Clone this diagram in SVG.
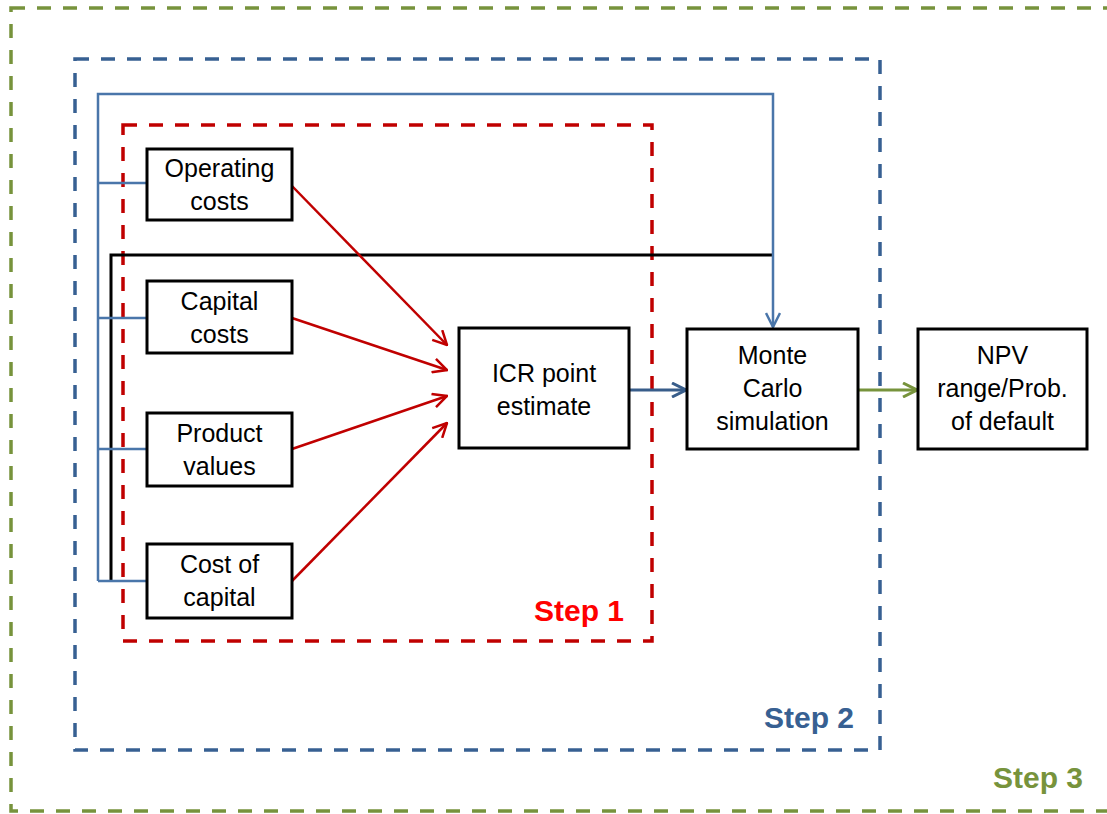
<svg xmlns="http://www.w3.org/2000/svg" width="1107" height="814" viewBox="0 0 1107 814">
<style>
.box{fill:#fff;stroke:#000;stroke-width:3}
.lbl{font-family:"Liberation Sans",Arial,sans-serif;font-size:25px;fill:#000;text-anchor:middle}
.step{font-family:"Liberation Sans",Arial,sans-serif;font-size:30px;font-weight:bold;text-anchor:end}
.zone{fill:none;stroke-width:3.5;stroke-dasharray:14 12}
.red{stroke:#C00000;stroke-width:2.5;fill:none}
.blue{stroke:#4A76AA;stroke-width:2.5;fill:none}
.blk{stroke:#000;stroke-width:3;fill:none}
</style>
<defs>
<marker id="aRed" markerUnits="userSpaceOnUse" viewBox="0 0 16 16" markerWidth="16" markerHeight="16" refX="15" refY="8" orient="auto"><path d="M1,1 L15,8 L1,15" fill="none" stroke="#C00000" stroke-width="2.5"/></marker>
<marker id="aBlue" markerUnits="userSpaceOnUse" viewBox="0 0 16 16" markerWidth="16" markerHeight="16" refX="15" refY="8" orient="auto"><path d="M1,1 L15,8 L1,15" fill="none" stroke="#4A76AA" stroke-width="2.5"/></marker>
<marker id="aDark" markerUnits="userSpaceOnUse" viewBox="0 0 16 16" markerWidth="16" markerHeight="16" refX="15" refY="8" orient="auto"><path d="M1,1 L15,8 L1,15" fill="none" stroke="#385D8A" stroke-width="3"/></marker>
<marker id="aGreen" markerUnits="userSpaceOnUse" viewBox="0 0 16 16" markerWidth="16" markerHeight="16" refX="15" refY="8" orient="auto"><path d="M1,1 L15,8 L1,15" fill="none" stroke="#77933C" stroke-width="3"/></marker>
</defs>
<rect width="1107" height="814" fill="#fff"/>
<g id="zones">
<rect x="11" y="8" width="1110" height="803" class="zone" stroke="#77933C"/>
<rect x="75" y="59" width="805" height="691" class="zone" stroke="#376092"/>
<rect x="123" y="125" width="529" height="516" class="zone" stroke="#C00000"/>
<text class="step" x="624" y="621" fill="#FF0000">Step 1</text>
<text class="step" x="854" y="728" fill="#376092">Step 2</text>
<text class="step" x="1083" y="788" fill="#77933C">Step 3</text>
</g>
<g id="connectors">
<path class="blk" d="M773,255 H111 V581"/>
<path class="blue" d="M98,581 V94 H773 V327" marker-end="url(#aBlue)"/>
<path class="blue" d="M98,183 H147 M98,318 H147 M98,449 H147 M98,581 H147"/>
<line class="red" x1="292" y1="186" x2="447" y2="345" marker-end="url(#aRed)"/>
<line class="red" x1="292" y1="318" x2="447" y2="370" marker-end="url(#aRed)"/>
<line class="red" x1="292" y1="449" x2="447" y2="396" marker-end="url(#aRed)"/>
<line class="red" x1="292" y1="581" x2="447" y2="423" marker-end="url(#aRed)"/>
<line x1="629" y1="390" x2="686" y2="390" stroke="#385D8A" stroke-width="3" marker-end="url(#aDark)"/>
<line x1="858" y1="390" x2="917" y2="390" stroke="#77933C" stroke-width="3" marker-end="url(#aGreen)"/>
</g>
<g id="operating-costs"><rect class="box" x="147" y="149" width="145" height="71"/><text class="lbl" x="219.5" y="177">Operating</text><text class="lbl" x="219.5" y="210">costs</text></g>
<g id="capital-costs"><rect class="box" x="147" y="281" width="145" height="72"/><text class="lbl" x="219.5" y="310">Capital</text><text class="lbl" x="219.5" y="343">costs</text></g>
<g id="product-values"><rect class="box" x="147" y="413" width="145" height="73"/><text class="lbl" x="219.5" y="442">Product</text><text class="lbl" x="219.5" y="475">values</text></g>
<g id="cost-of-capital"><rect class="box" x="147" y="544" width="145" height="74"/><text class="lbl" x="219.5" y="573">Cost of</text><text class="lbl" x="219.5" y="606">capital</text></g>
<g id="icr"><rect class="box" x="459" y="328" width="170" height="120"/><text class="lbl" x="544" y="382">ICR point</text><text class="lbl" x="544" y="415">estimate</text></g>
<g id="monte-carlo"><rect class="box" x="687" y="329" width="171" height="120"/><text class="lbl" x="772.5" y="364">Monte</text><text class="lbl" x="772.5" y="397">Carlo</text><text class="lbl" x="772.5" y="430">simulation</text></g>
<g id="npv"><rect class="box" x="918" y="329" width="169" height="120"/><text class="lbl" x="1002.5" y="364">NPV</text><text class="lbl" x="1002.5" y="397">range/Prob.</text><text class="lbl" x="1002.5" y="430">of default</text></g>
</svg>
